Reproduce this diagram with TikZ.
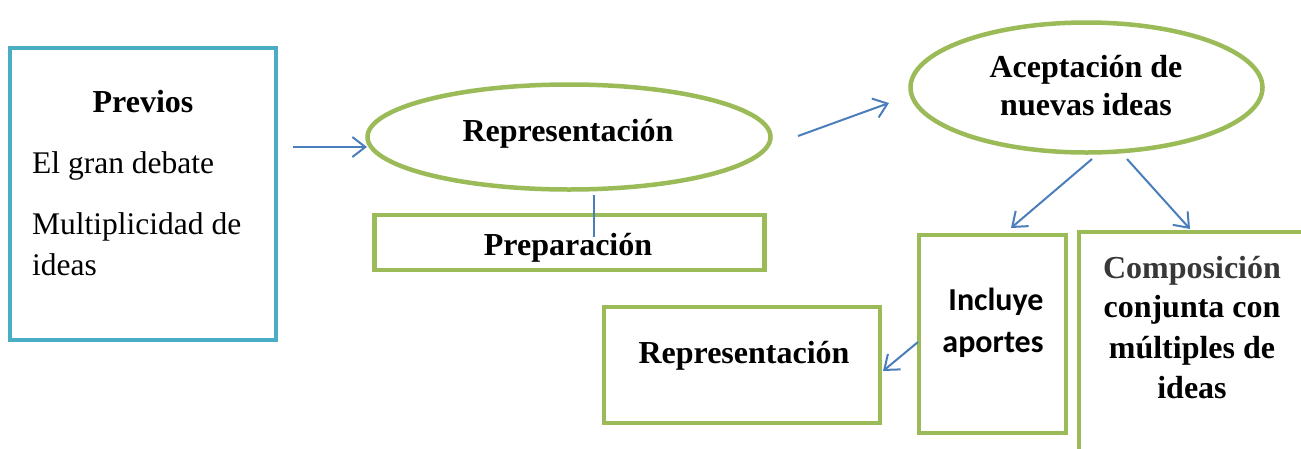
\documentclass[tikz,border=0pt]{standalone}
\usepackage{fontspec}
\setmainfont{Liberation Serif}
\newfontfamily\calib{Carlito}
\usetikzlibrary{arrows.meta,shapes.geometric}
\definecolor{grn}{HTML}{9BBB59}
\definecolor{tealb}{HTML}{4BACC6}
\definecolor{arr}{HTML}{4A7EBB}
\begin{document}
\begin{tikzpicture}[x=1pt,y=-1pt,
  gbox/.style={draw=grn,line width=4.5pt,rectangle,inner sep=0pt},
  gell/.style={draw=grn,line width=4.5pt,ellipse,inner sep=0pt},
  conn/.style={draw=arr,line width=2pt,-{Straight Barb[length=13pt,width=20pt]}},
  plain/.style={draw=arr,line width=2pt},
  bt/.style={font=\fontsize{32}{40}\selectfont\bfseries,inner sep=0pt},
  rt/.style={font=\fontsize{31.5}{40}\selectfont,inner sep=0pt},
  ct/.style={font=\fontsize{32}{40}\selectfont\calib\bfseries,inner sep=0pt}]
\useasboundingbox (0,0) rectangle (1301,448);
\clip (0,0) rectangle (1301,448);

% Previos box
\node[draw=tealb,line width=4pt,rectangle,inner sep=0pt,minimum width=266pt,minimum height=292pt] (prev) at (143,194) {};
\node[bt,anchor=base] (prevt) at (143,112) {Previos};
\node[rt,anchor=base west] (p1) at (32,173) {El gran debate};
\node[rt,anchor=base west] (p2) at (32,234) {Multiplicidad de};
\node[rt,anchor=base west] (p3) at (32,275) {ideas};

% Ellipse 1
\node[gell,minimum width=403pt,minimum height=105pt] (e1) at (569,137) {};
\node[bt,anchor=base] (e1t) at (568,141) {Representación};

% Preparacion box
\node[gbox,minimum width=390pt,minimum height=55pt] (prep) at (569.5,242.5) {};
\node[bt,anchor=base] (prept) at (568,255) {Preparación};

% Ellipse 2
\node[gell,minimum width=352pt,minimum height=130pt] (e2) at (1086.5,87.5) {};
\node[bt,anchor=base] (e2a) at (1086,77) {Aceptación de};
\node[bt,anchor=base] (e2b) at (1086,115) {nuevas ideas};

% Incluye box
\node[gbox,minimum width=147pt,minimum height=198pt] (inc) at (992.5,334) {};
\node[ct,anchor=base] (inca) at (996,310) {Incluye};
\node[ct,anchor=base] (incb) at (993,352) {aportes};

% Composicion box
\node[gbox,minimum width=241pt,minimum height=238pt] (comp) at (1199.5,351) {};
\node[bt,anchor=base,text=black!78] (c1) at (1192,278) {Composición};
\node[bt,anchor=base] (c2) at (1192,317) {conjunta con};
\node[bt,anchor=base] (c3) at (1192,358) {múltiples de};
\node[bt,anchor=base] (c4) at (1192,398) {ideas};

% Representacion box 2
\node[gbox,minimum width=276pt,minimum height=116pt] (rep2) at (742,365) {};
\node[bt,anchor=base] (rep2t) at (744,363) {Representación};

% connectors
\coordinate (a1s) at (293,147);
\coordinate (a1e) at (367,147);
\draw[conn] (a1s) -- (a1e);

\coordinate (v1s) at (594,195);
\coordinate (v1e) at (594,237);
\draw[plain] (v1s) -- (v1e);

\coordinate (a2s) at (798,136);
\coordinate (a2e) at (889,103);
\draw[conn] (a2s) -- (a2e);

\coordinate (a3s) at (1092,159);
\coordinate (a3e) at (1011,228);
\draw[conn] (a3s) -- (a3e);

\coordinate (a4s) at (1127,159);
\coordinate (a4e) at (1190,229);
\draw[conn] (a4s) -- (a4e);

\coordinate (a5s) at (918,342);
\coordinate (a5e) at (883,371);
\draw[conn] (a5s) -- (a5e);
\end{tikzpicture}
\end{document}
